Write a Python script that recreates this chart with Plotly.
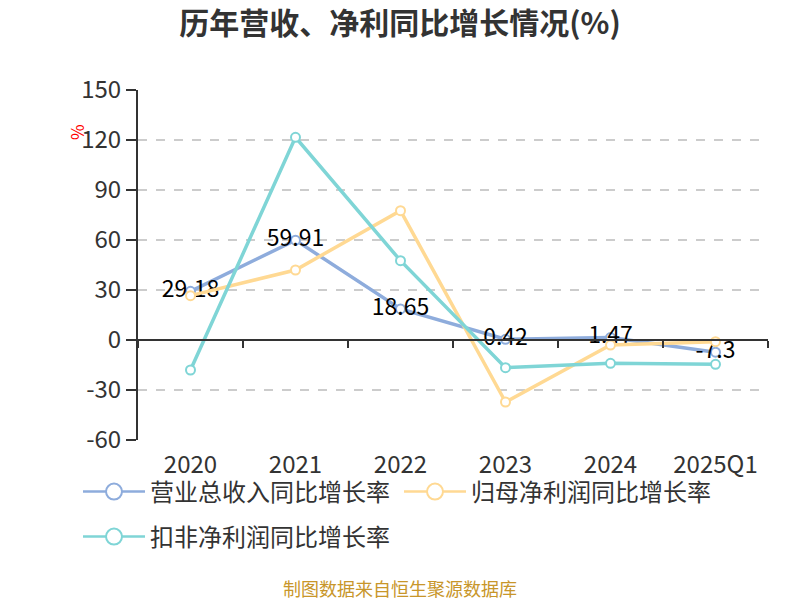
import plotly.graph_objects as go

categories = ["2020", "2021", "2022", "2023", "2024", "2025Q1"]
revenue_growth = [29.18, 59.91, 18.65, 0.42, 1.47, -7.3]
parent_profit_growth = [26.6, 42.0, 77.6, -37.2, -3.0, -1.0]
deducted_profit_growth = [-18.0, 121.6, 47.6, -16.6, -14.0, -14.6]
y_ticks = [-60, -30, 0, 30, 60, 90, 120, 150]
y_tick_labels = ["-60", "-30", "0", "30", "60", "90", "120", "150"]

series_names = ["营业总收入同比增长率", "归母净利润同比增长率", "扣非净利润同比增长率"]
colors = ["#8EACDC", "#FFD993", "#7FD5D6"]

FONT = "Noto Sans CJK SC"
OFF = 8  # page body margin in the browser
W, H = 800 - OFF, 600 - OFF
L, T = 138 - OFF, 90 - OFF
R, B = W - (768 - OFF), H - (440 - OFF)
PW, PH = W - L - R, H - T - B


def px(xr):
    return (xr - OFF - L) / PW


def py(yr):
    return 1 - (yr - OFF - T) / PH


fig = go.Figure()

all_series = [revenue_growth, parent_profit_growth, deducted_profit_growth]
for i, (name, vals, col) in enumerate(zip(series_names, all_series, colors)):
    fig.add_trace(go.Scatter(
        x=categories, y=vals, name=name, showlegend=False,
        mode="lines+markers+text" if i == 0 else "lines+markers",
        line=dict(color=col, width=3.5),
        marker=dict(symbol="circle", size=9, color="white", line=dict(color=col, width=2)),
        text=[f"{v:g}" for v in vals] if i == 0 else None,
        textposition="middle center",
        textfont=dict(size=23, color="#000000", family=FONT),
        cliponaxis=False,
    ))

# legend-only entries with larger icons
legend_refs = ["legend", "legend", "legend2"]
for name, col, lg in zip(series_names, colors, legend_refs):
    fig.add_trace(go.Scatter(
        x=[None], y=[None], name=name, mode="lines+markers",
        line=dict(color=col, width=2.5),
        marker=dict(symbol="circle", size=18, color="white", line=dict(color=col, width=2)),
        showlegend=True, legend=lg,
    ))

# invisible trace on xaxis2 so the axis line at y=0 renders
fig.add_trace(go.Scatter(x=categories, y=[None] * len(categories), xaxis="x2",
                         showlegend=False, hoverinfo="skip", mode="lines"))

legend_common = dict(orientation="h", xref="paper", yref="paper", xanchor="left", yanchor="middle",
                     font=dict(size=24, color="#333333", family=FONT),
                     entrywidth=244, entrywidthmode="pixels", itemwidth=62,
                     bgcolor="rgba(0,0,0,0)")

fig.update_layout(
    width=W, height=H,
    margin=dict(l=L, r=R, t=T, b=B, autoexpand=False),
    plot_bgcolor="white", paper_bgcolor="white",
    font=dict(family=FONT, color="#333333"),
    title=dict(text="<b>历年营收、净利同比增长情况(%)</b>", x=(400 - OFF) / W, xanchor="center",
               y=1 - (23 - OFF) / H, yanchor="middle", yref="container", xref="container",
               font=dict(size=30, color="#333333", family=FONT)),
    xaxis=dict(type="category", range=[-0.5, 5.5], showline=False, ticks="",
               showgrid=False, tickfont=dict(size=24, color="#333333"), ticklabelstandoff=8),
    xaxis2=dict(type="category", range=[-0.5, 5.5], overlaying="x", anchor="free",
                position=60 / 210, showline=True, linecolor="#333333", linewidth=2,
                ticks="outside", tickson="boundaries", ticklen=7, tickwidth=2, tickcolor="#333333",
                showticklabels=False, showgrid=False, matches="x"),
    yaxis=dict(range=[-60, 150], tickvals=y_ticks, ticktext=y_tick_labels, showline=True,
               linecolor="#333333", linewidth=2, ticks="outside", ticklen=10, tickwidth=2,
               tickcolor="#333333", showgrid=True, gridcolor="#CCCCCC", griddash="dash",
               gridwidth=1.5, zeroline=False, tickfont=dict(size=24, color="#333333")),
    legend=dict(x=px(78), y=py(492), **legend_common),
    legend2=dict(x=px(78), y=py(537), **legend_common),
    showlegend=True,
)

fig.add_annotation(text="%", xref="paper", yref="paper", x=px(76), y=py(132),
                   textangle=-90, showarrow=False, xanchor="center", yanchor="middle",
                   font=dict(size=17, color="#FF0000", family=FONT))
fig.add_annotation(text="制图数据来自恒生聚源数据库", xref="paper", yref="paper",
                   x=px(400), y=py(588), showarrow=False,
                   xanchor="center", yanchor="middle",
                   font=dict(size=18, color="#C8962A", family=FONT))

fig.write_html("out.html")
